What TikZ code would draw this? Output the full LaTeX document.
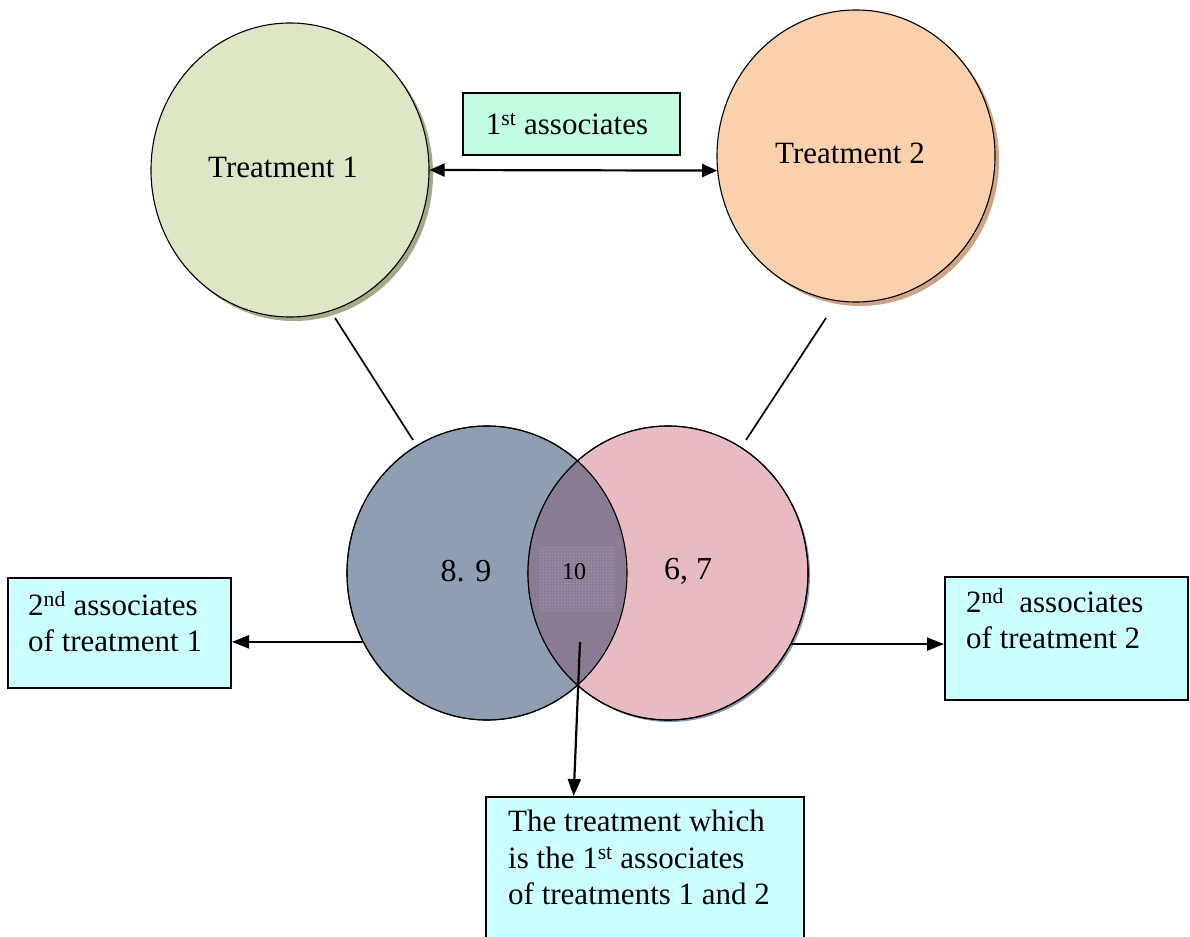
\documentclass[tikz,border=0pt]{standalone}
\usepackage{fontspec}
\setmainfont{Liberation Serif}
\usetikzlibrary{shapes.geometric,arrows.meta,calc}
\definecolor{tonec}{HTML}{DDE7C6}
\definecolor{toneshadow}{HTML}{A3AA86}
\definecolor{ttwoc}{HTML}{FAD0AD}
\definecolor{ttwoshadow}{HTML}{CFA486}
\definecolor{vlc}{HTML}{8F9EB2}
\definecolor{vrc}{HTML}{E8BAC2}
\definecolor{vrshadow}{HTML}{8896AA}
\definecolor{lensc}{HTML}{8A7C92}
\definecolor{gridc}{HTML}{A091B2}
\definecolor{mintc}{HTML}{C2FFE0}
\definecolor{cyanc}{HTML}{CCFFFF}
\tikzset{
  bigcirc/.style={ellipse, draw=black, line width=1.1pt, inner sep=0pt, minimum width=278pt, minimum height=294pt},
  venn/.style={ellipse, draw=black, line width=1.1pt, inner sep=0pt, minimum width=280pt, minimum height=294pt},
  boxshape/.style={rectangle, draw=black, line width=2pt, inner sep=0pt},
  txt/.style={font=\fontsize{31}{36.5}\selectfont, inner sep=0pt, align=left},
  arr/.style={line width=2.2pt, -{Triangle[length=17pt,width=13pt]}},
  dblarr/.style={line width=2.2pt, {Triangle[length=15pt,width=13pt]}-{Triangle[length=15pt,width=13pt]}},
  link/.style={line width=1.7pt}
}
\begin{document}
\begin{tikzpicture}[x=1pt,y=-1pt]
\useasboundingbox (0,0) rectangle (1190,936);
% shadows
\fill[toneshadow] (294,174) ellipse [x radius=139pt, y radius=147pt];
\fill[ttwoshadow] (860,160) ellipse [x radius=139pt, y radius=146pt];
\fill[vrshadow] (670,575) ellipse [x radius=140pt, y radius=147pt];
% treatment circles
\node[bigcirc, fill=tonec] (t1) at (290,170) {};
\node[bigcirc, fill=ttwoc, minimum height=292pt] (t2) at (856,156) {};
\node[txt] (t1txt) at (283,167) {Treatment 1};
\node[txt] (t2txt) at (850,153) {Treatment 2};
% venn
\node[venn, fill=vlc] (vl) at (487,573) {};
\node[venn, fill=vrc] (vr) at (668,573) {};
\begin{scope}
  \clip (487,573) ellipse [x radius=140pt, y radius=147pt];
  \fill[lensc] (668,573) ellipse [x radius=140pt, y radius=147pt];
  \begin{scope}
    \clip (540,547) rectangle (615,610);
    \foreach \i in {540,543,...,615} \draw[gridc, line width=0.6pt, opacity=0.45] (\i,547) -- (\i,610);
    \foreach \j in {547,550,...,610} \draw[gridc, line width=0.6pt, opacity=0.45] (540,\j) -- (615,\j);
  \end{scope}
\end{scope}
\draw[line width=1.1pt] (487,573) ellipse [x radius=140pt, y radius=147pt];
\draw[line width=1.1pt] (668,573) ellipse [x radius=140pt, y radius=147pt];
\node[font=\fontsize{32}{36}\selectfont, inner sep=0pt] (n89) at (466,571) {8. 9};
\node[font=\fontsize{24}{28}\selectfont, inner sep=0pt] (n10) at (574,572) {10};
\node[font=\fontsize{32}{36}\selectfont, inner sep=0pt] (n67) at (688,571) {6, 7};
% links from treatments to venn
\coordinate (l1a) at (335,318);
\coordinate (l1b) at (413,440);
\coordinate (l2a) at (826,318);
\coordinate (l2b) at (746,440);
\draw[link] (l1a) -- (l1b);
\draw[link] (l2a) -- (l2b);
% boxes
\node[boxshape, fill=mintc, minimum width=217pt, minimum height=62pt] (top) at (571.5,124) {};
\node[txt] (toptxt) at (567,124) {1\textsuperscript{st} associates};
\node[boxshape, fill=cyanc, minimum width=223pt, minimum height=110pt] (lb) at (119.5,633) {};
\node[txt, anchor=north west] (lbtxt) at (28,591) {2\textsuperscript{nd} associates\\of treatment 1};
\node[boxshape, fill=cyanc, minimum width=243pt, minimum height=123pt] (rb) at (1066.5,638.5) {};
\node[txt, anchor=north west] (rbtxt) at (966,588) {2\textsuperscript{nd}\ \ associates\\of treatment 2};
\node[boxshape, fill=cyanc, minimum width=318pt, minimum height=146pt] (bb) at (645,870) {};
\node[txt, anchor=north west] (bbtxt) at (508,810) {The treatment which\\is the 1\textsuperscript{st} associates\\of treatments 1 and 2};
% arrows
\draw[dblarr] (t1.east) -- (t2.186);
\draw[arr] (vl.209.6) -- (vl.209.6 -| lb.east);
\draw[arr] (vr.330.4) -- (vr.330.4 -| rb.west);
\coordinate (lensstart) at (580,642);
\draw[arr] (lensstart) -- ($(bb.north west)!0.277!(bb.north east)$);
\end{tikzpicture}
\end{document}
